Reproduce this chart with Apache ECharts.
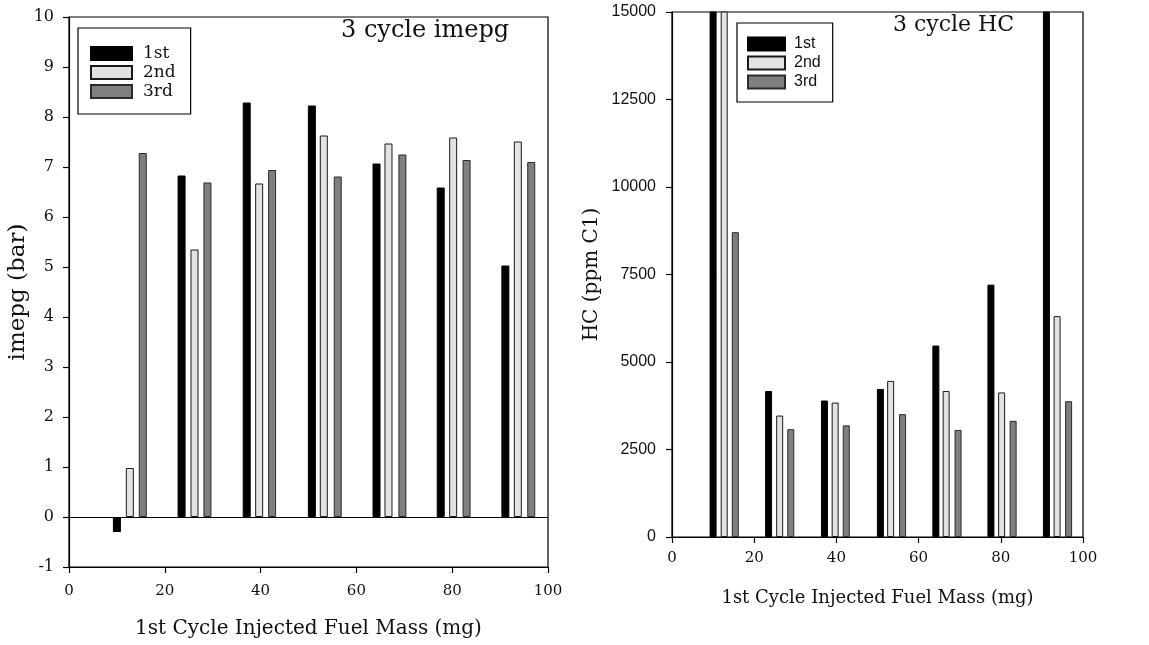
<!DOCTYPE html>
<html>
<head>
<meta charset="utf-8">
<script src="https://cdn.jsdelivr.net/npm/echarts@6/dist/echarts.min.js"></script>
<style>
html,body{margin:0;padding:0;background:#fff;}
#chart{width:1149px;height:645px;}
</style>
</head>
<body>
<div id="chart"></div>
<script>
// Bar positions (mg) for each cycle within a group
var x1st = [10.0, 23.5, 37.1, 50.7, 64.2, 77.6, 91.1];
var x2nd = [12.7, 26.2, 39.7, 53.2, 66.7, 80.2, 93.7];
var x3rd = [15.4, 28.9, 42.4, 56.1, 69.6, 83.0, 96.5];

// imepg (bar)
var imep1st = [-0.3, 6.83, 8.29, 8.23, 7.07, 6.59, 5.03];
var imep2nd = [0.98, 5.35, 6.67, 7.63, 7.47, 7.59, 7.51];
var imep3rd = [7.28, 6.69, 6.94, 6.81, 7.25, 7.14, 7.10];

// HC (ppm C1) - values above 15000 are off scale in the original
var hc1st = [16000, 4170, 3900, 4230, 5470, 7210, 16000];
var hc2nd = [16000, 3470, 3840, 4460, 4170, 4130, 6310];
var hc3rd = [8710, 3080, 3190, 3510, 3060, 3320, 3880];

var seriesNames = ['1st', '2nd', '3rd'];

function pairs(xs, ys) { return xs.map(function (x, i) { return [x, ys[i]]; }); }

var styles = [
  { color: '#000000', borderColor: '#000000', borderWidth: 1 },
  { color: '#e2e2e2', borderColor: '#1a1a1a', borderWidth: 1 },
  { color: '#7f7f7f', borderColor: '#2a2a2a', borderWidth: 1 }
];

var SERIF = '"DejaVu Serif", serif';
var SANS = '"Liberation Sans", Arial, sans-serif';

function bar(name, idx, xs, ys, gi, w, extra) {
  var s = {
    type: 'bar', name: name, xAxisIndex: gi, yAxisIndex: gi,
    data: pairs(xs, ys), barWidth: w, barGap: '-100%', clip: true,
    itemStyle: styles[idx], emphasis: { disabled: true }, animation: false
  };
  if (extra) for (var k in extra) s[k] = extra[k];
  return s;
}

var chart = echarts.init(document.getElementById('chart'), null, { renderer: 'canvas' });

var axisLine = { show: true, onZero: false, lineStyle: { color: '#000', width: 1.2 } };
var axisTick = { show: true, inside: false, length: 6, lineStyle: { color: '#000', width: 1.2 } };
var plain = function (v) { return String(v); };

var option = {
  backgroundColor: '#fff',
  animation: false,
  title: [
    { text: '3 cycle imepg', left: 341, top: 19, padding: 0,
      textStyle: { fontFamily: SERIF, fontSize: 24, fontWeight: 'normal', color: '#111' } },
    { text: '3 cycle HC', left: 893, top: 14, padding: 0,
      textStyle: { fontFamily: SERIF, fontSize: 22, fontWeight: 'normal', color: '#111' } }
  ],
  legend: [
    { orient: 'vertical', left: 78, top: 28, padding: [17, 15, 14, 12], icon: 'rect',
      borderColor: '#000', borderWidth: 1.2, itemWidth: 41, itemHeight: 13, itemGap: 2,
      data: seriesNames, selectedMode: false,
      textStyle: { fontFamily: SERIF, fontSize: 17, color: '#111', padding: [0, 0, 0, 6] } },
    { orient: 'vertical', left: 737, top: 23, padding: [13, 12, 12, 10], icon: 'rect',
      borderColor: '#000', borderWidth: 1.2, itemWidth: 37, itemHeight: 13, itemGap: 3,
      data: seriesNames, selectedMode: false,
      textStyle: { fontFamily: SANS, fontSize: 16, color: '#111', padding: [0, 0, 0, 4] } }
  ],
  grid: [
    { left: 69, top: 17, width: 479, height: 550, show: true, borderColor: '#000', borderWidth: 1.2, containLabel: false },
    { left: 672, top: 12, width: 411, height: 525, show: true, borderColor: '#000', borderWidth: 1.2, containLabel: false }
  ],
  xAxis: [
    { type: 'value', gridIndex: 0, min: 0, max: 100, interval: 20,
      name: '1st Cycle Injected Fuel Mass (mg)', nameLocation: 'middle', nameGap: 52,
      nameTextStyle: { fontFamily: SERIF, fontSize: 20, color: '#111' },
      axisLine: axisLine, axisTick: axisTick, splitLine: { show: false },
      axisLabel: { fontFamily: SERIF, fontSize: 15, color: '#111', margin: 17 } },
    { type: 'value', gridIndex: 1, min: 0, max: 100, interval: 20,
      name: '1st Cycle Injected Fuel Mass (mg)', nameLocation: 'middle', nameGap: 52,
      nameTextStyle: { fontFamily: SERIF, fontSize: 18, color: '#111' },
      axisLine: axisLine, axisTick: axisTick, splitLine: { show: false },
      axisLabel: { fontFamily: SERIF, fontSize: 15, color: '#111', margin: 14 } }
  ],
  yAxis: [
    { type: 'value', gridIndex: 0, min: -1, max: 10, interval: 1,
      name: 'imepg (bar)', nameLocation: 'middle', nameGap: 36,
      nameTextStyle: { fontFamily: SERIF, fontSize: 23, color: '#111' },
      axisLine: axisLine, axisTick: axisTick, splitLine: { show: false },
      axisLabel: { fontFamily: SERIF, fontSize: 16, color: '#111', margin: 15 } },
    { type: 'value', gridIndex: 1, min: 0, max: 15000, interval: 2500,
      name: 'HC (ppm C1)', nameLocation: 'middle', nameGap: 70,
      nameTextStyle: { fontFamily: SERIF, fontSize: 20, color: '#111' },
      axisLine: axisLine, axisTick: axisTick, splitLine: { show: false },
      axisLabel: { fontFamily: SANS, fontSize: 16, color: '#111', margin: 16, formatter: plain } }
  ],
  series: [
    bar('1st', 0, x1st, imep1st, 0, 8, {
      markLine: { silent: true, symbol: 'none', animation: false,
        label: { show: false }, lineStyle: { color: '#000', width: 1.2, type: 'solid' },
        data: [{ yAxis: 0 }] }
    }),
    bar('2nd', 1, x2nd, imep2nd, 0, 8),
    bar('3rd', 2, x3rd, imep3rd, 0, 8),
    bar('1st', 0, x1st, hc1st, 1, 7),
    bar('2nd', 1, x2nd, hc2nd, 1, 7),
    bar('3rd', 2, x3rd, hc3rd, 1, 7)
  ]
};
chart.setOption(option);
</script>
</body>
</html>
